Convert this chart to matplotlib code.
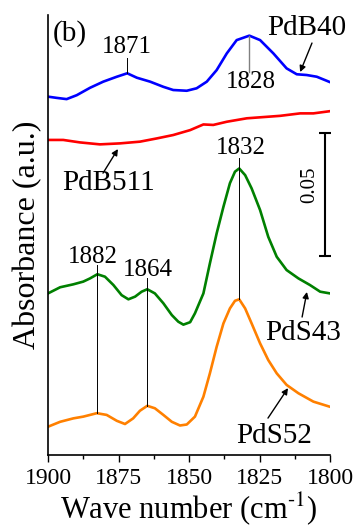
import numpy as np
import matplotlib
matplotlib.use("Agg")
import matplotlib.pyplot as plt
from matplotlib.ticker import MultipleLocator

plt.rcParams['font.family'] = ['Liberation Serif', 'DejaVu Serif']
plt.rcParams['mathtext.fontset'] = 'stix'

# PdB40 (blue)
wn_b40 = [1900, 1896.9, 1893.4, 1889.8, 1885.1, 1880.4, 1875.6, 1871.9, 1868.5, 1863.8,
          1859.1, 1855.6, 1850.8, 1847.3, 1843.7, 1840.2, 1836.6, 1833.1, 1828.6, 1824.8,
          1820.1, 1815.4, 1811.8, 1808.3, 1804.7, 1800]
ab_b40 = [0.1457, 0.1452, 0.1447, 0.1463, 0.1493, 0.1518, 0.1538, 0.1552, 0.1534, 0.1518,
          0.1497, 0.1484, 0.1481, 0.1491, 0.1518, 0.1565, 0.1633, 0.1687, 0.1705, 0.1687,
          0.1633, 0.1572, 0.1548, 0.1545, 0.1538, 0.1516]

# PdB511 (red)
wn_b511 = [1900, 1894.6, 1888.7, 1881.6, 1874.5, 1867.4, 1861.5, 1855.6, 1849.6, 1844.9,
           1841.4, 1836.6, 1829.5, 1822.4, 1817.7, 1810.6, 1805.9, 1800]
ab_b511 = [0.1281, 0.1281, 0.1271, 0.1263, 0.1267, 0.1274, 0.1287, 0.1301, 0.1321, 0.1344,
           0.1342, 0.1355, 0.1369, 0.1375, 0.1379, 0.1389, 0.1389, 0.1398]

# PdS43 (green)
wn_s43 = [1900, 1895.7, 1891.0, 1887.5, 1885.1, 1882.5, 1879.8, 1876.8, 1873.9, 1871.5,
          1869.1, 1866.8, 1864.8, 1862.1, 1859.1, 1856.1, 1853.8, 1852.0, 1849.6, 1847.9,
          1844.9, 1842.6, 1840.2, 1837.8, 1835.5, 1833.7, 1832.2, 1830.1, 1827.8, 1824.8,
          1821.9, 1818.9, 1815.4, 1811.2, 1807.1, 1803.5, 1800]
ab_s43 = [0.0657, 0.0682, 0.0694, 0.0705, 0.0718, 0.0735, 0.0725, 0.0691, 0.0650, 0.0633,
          0.0644, 0.0664, 0.0674, 0.0657, 0.0617, 0.0569, 0.0542, 0.0530, 0.0540, 0.0576,
          0.0657, 0.0779, 0.0901, 0.1009, 0.1105, 0.1152, 0.1165, 0.1138, 0.1084, 0.0996,
          0.0887, 0.0806, 0.0752, 0.0718, 0.0691, 0.0664, 0.0657]

# PdS52 (orange)
wn_s52 = [1900, 1895.7, 1891.0, 1887.5, 1882.7, 1879.2, 1875.6, 1872.7, 1869.8, 1867.4,
          1864.8, 1862.1, 1859.1, 1856.1, 1853.2, 1850.8, 1847.9, 1844.9, 1842.6, 1840.2,
          1837.8, 1835.5, 1833.7, 1832.2, 1830.1, 1827.8, 1824.8, 1821.9, 1818.9, 1815.4,
          1811.2, 1805.9, 1800]
ab_s52 = [0.0115, 0.0135, 0.0149, 0.0156, 0.0170, 0.0163, 0.0139, 0.0126, 0.0149, 0.0180,
          0.0200, 0.0190, 0.0163, 0.0135, 0.0120, 0.0124, 0.0156, 0.0237, 0.0332, 0.0440,
          0.0535, 0.0596, 0.0627, 0.0633, 0.0596, 0.0535, 0.0454, 0.0386, 0.0332, 0.0285,
          0.0251, 0.0217, 0.0196]

# thin peak marker lines: wavenumber, bottom, top
peak_lines = [
    (1882.6, 0.0170, 0.0772),
    (1864.8, 0.0200, 0.0720),
    (1832.2, 0.0633, 0.1207),
    (1871.9, 0.1552, 0.1614),
]
peak_labels = [
    ("1871", 1872, 0.1659),
    ("1828", 1828, 0.1516),
    ("1832", 1831.6, 0.1248),
    ("1882", 1884, 0.0805),
    ("1864", 1864.5, 0.0752),
]

fig = plt.figure(figsize=(3.59, 5.30), dpi=100)
ax = fig.add_axes([0.1337, 0.1415, 0.7856, 0.8302])

ax.plot(wn_b40, ab_b40, color='#0000ff', lw=1.9)
ax.plot(wn_b511, ab_b511, color='#ff0000', lw=1.9)
ax.plot(wn_s43, ab_s43, color='#008000', lw=1.9)
ax.plot(wn_s52, ab_s52, color='#ff8000', lw=1.9)

for wn, y0, y1 in peak_lines:
    ax.plot([wn, wn], [y0, y1], color='black', lw=0.7)
ax.plot([1828.6, 1828.6], [0.1557, 0.1705], color='#808080', lw=1.0)

for txt, x, y in peak_labels:
    ax.text(x, y, txt, fontsize=18, ha='center', va='center')

ax.text(1892.2, 0.1715, "(b)", fontsize=21, ha='center', va='center')

# sample labels with arrows
names = [
    ("PdB40", (1808.2, 0.1736), (1806.4, 0.1675), (1810.6, 0.1557)),
    ("PdB511", (1878.7, 0.1106), (1880.5, 0.1146), (1875.2, 0.1244)),
    ("PdS43", (1809.6, 0.0496), (1809.9, 0.0561), (1808.2, 0.0663)),
    ("PdS52", (1819.9, 0.0077), (1822.0, 0.0150), (1814.9, 0.0272)),
]
for txt, pos, tail, head in names:
    ax.text(pos[0], pos[1], txt, fontsize=21, ha='center', va='center')
    ax.annotate("", xy=head, xytext=tail,
                arrowprops=dict(arrowstyle='-|>', color='black', lw=1.0,
                                mutation_scale=9, shrinkA=0, shrinkB=0))

# scale bar
ax.errorbar([1801.8], [0.1059], yerr=[0.025], color='black', lw=1.5,
            capsize=4.5, capthick=1.5)
ax.text(1807.1, 0.1098, "0.05", fontsize=15, rotation=90, ha='center', va='center')

ax.set_xlim(1900, 1800)
ax.set_ylim(0, 0.1789)
ax.xaxis.set_major_locator(MultipleLocator(25))
ax.xaxis.set_minor_locator(MultipleLocator(12.5))
ax.tick_params(axis='x', which='major', direction='out', length=5, width=1, labelsize=17, pad=4)
ax.tick_params(axis='x', which='minor', direction='out', length=3, width=1)
ax.set_yticks([])
for s in ['top', 'right']:
    ax.spines[s].set_visible(False)
for s in ['left', 'bottom']:
    ax.spines[s].set_linewidth(1.2)

ax.set_xlabel(r"Wave number (cm$^{\text{-1}}$)", fontsize=22, labelpad=1)
ax.set_ylabel("Absorbance (a.u.)", fontsize=23, labelpad=4)

fig.savefig("out.png", dpi=100)
